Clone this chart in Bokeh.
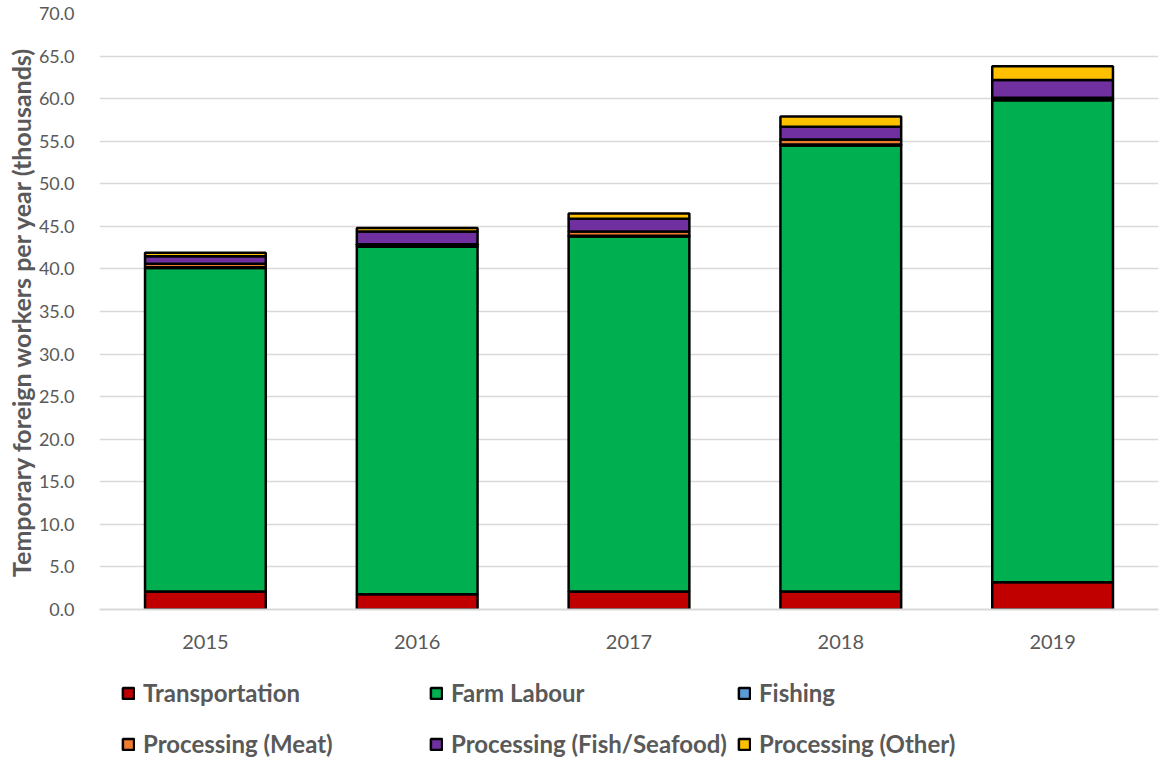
from bokeh.plotting import figure
from bokeh.layouts import column
from bokeh.models import ColumnDataSource, Legend, LegendItem, NumeralTickFormatter, FixedTicker
from bokeh.embed import file_html
from bokeh.resources import INLINE

years = ["2015", "2016", "2017", "2018", "2019"]
transportation = [2.1, 1.8, 2.1, 2.1, 3.2]
farm_labour = [38.0, 40.8, 41.7, 52.4, 56.6]
fishing = [0.1, 0.1, 0.1, 0.1, 0.1]
processing_meat = [0.4, 0.2, 0.5, 0.6, 0.2]
processing_fish = [0.9, 1.5, 1.5, 1.5, 2.1]
processing_other = [0.4, 0.4, 0.6, 1.2, 1.6]

series = ["Transportation", "Farm Labour", "Fishing", "Processing (Meat)",
          "Processing (Fish/Seafood)", "Processing (Other)"]
colors = ["#C00000", "#00B050", "#5B9BD5", "#ED7D31", "#7030A0", "#FFC000"]

source = ColumnDataSource(data={
    "year": years,
    series[0]: transportation,
    series[1]: farm_labour,
    series[2]: fishing,
    series[3]: processing_meat,
    series[4]: processing_fish,
    series[5]: processing_other,
})

FONT = "Lato"
GRAY = "#595959"
W = 1159
H_MAIN = 655

p = figure(x_range=years, y_range=(0, 70), width=W, height=H_MAIN,
           output_backend="svg", toolbar_location=None,
           min_border_left=99, min_border_right=1, min_border_top=13,
           min_border_bottom=46)
p.outline_line_color = None

renderers = p.vbar_stack(series, x="year", width=0.57, source=source,
                         fill_color=colors, line_color="black", line_width=2.5)

p.yaxis.ticker = FixedTicker(ticks=[i * 5 for i in range(15)])
p.yaxis.formatter = NumeralTickFormatter(format="0.0")
p.yaxis.axis_line_color = None
p.yaxis.major_tick_line_color = None
p.yaxis.minor_tick_line_color = None
p.yaxis.major_label_text_font = FONT
p.yaxis.major_label_text_font_size = "18px"
p.yaxis.major_label_text_color = GRAY
p.yaxis.major_label_standoff = 19
p.yaxis.axis_label = "Temporary foreign workers per year (thousands)"
p.yaxis.axis_label_text_font = FONT
p.yaxis.axis_label_text_font_style = "bold"
p.yaxis.axis_label_text_font_size = "25px"
p.yaxis.axis_label_text_color = GRAY
p.yaxis.axis_label_standoff = 0

p.xaxis.axis_line_color = "#D9D9D9"
p.xaxis.axis_line_width = 2
p.xaxis.major_tick_line_color = None
p.xaxis.minor_tick_line_color = None
p.xaxis.major_label_text_font = FONT
p.xaxis.major_label_text_font_size = "20px"
p.xaxis.major_label_text_color = GRAY
p.xaxis.major_label_standoff = 19

p.xgrid.grid_line_color = None
p.ygrid.grid_line_color = "#D9D9D9"
p.ygrid.grid_line_width = 1.5

# Legend area below the chart (own small figure so nothing is clipped)
leg = figure(x_range=(0, 1), y_range=(0, 1), width=W, height=757 - H_MAIN,
             output_backend="svg", toolbar_location=None,
             x_axis_location=None, y_axis_location=None,
             min_border=0, min_border_left=0, min_border_right=0,
             min_border_top=0, min_border_bottom=0)
leg.outline_line_color = None
leg.xgrid.grid_line_color = None
leg.ygrid.grid_line_color = None

items = []
for s, c in zip(series, colors):
    # zero-size proxy bar, used only as the legend swatch
    r = leg.vbar(x=[0.5], top=[-100], bottom=[-100], width=0, fill_color=c,
                 line_color="black", line_width=2.5)
    items.append(LegendItem(label=s, renderers=[r]))

legend = Legend(items=items, ncols=3, location=(22, -7),
                orientation="horizontal",
                glyph_width=14, glyph_height=14, label_standoff=8,
                label_width=276, label_height=41, spacing=10, padding=0,
                margin=0, border_line_color=None, background_fill_alpha=0,
                label_text_font=FONT, label_text_font_style="bold",
                label_text_font_size="24px", label_text_color=GRAY)
leg.add_layout(legend, "center")

layout = column(p, leg, spacing=0)
open("out.html", "w").write(file_html(layout, INLINE))
